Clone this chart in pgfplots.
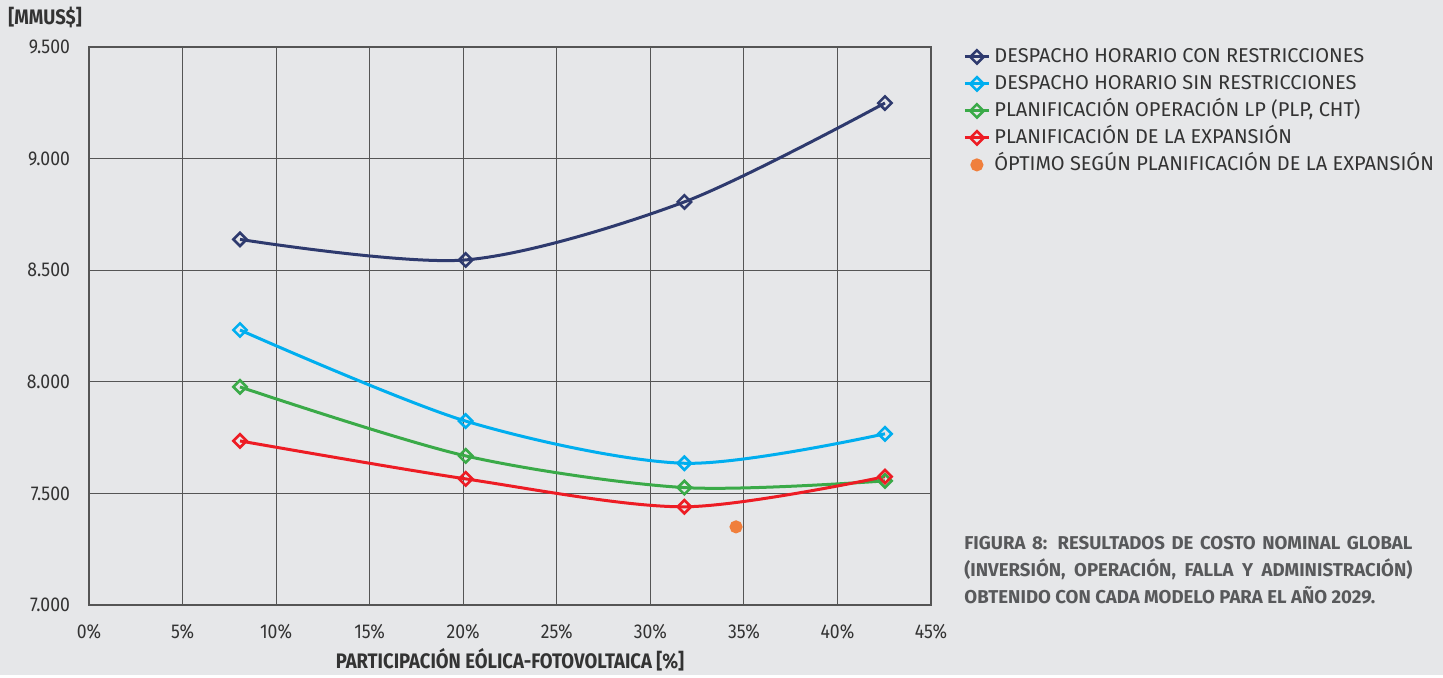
\documentclass[border=0pt]{standalone}
\usepackage{pgfplots}
\pgfplotsset{compat=1.18}
\usepackage{fontspec}
\setmainfont{Fira Sans}
\newfontfamily\condfont{Fira Sans}[FakeStretch=0.88]
\definecolor{bgc}{HTML}{E6E7E9}
\definecolor{cnavy}{HTML}{2E3A6E}
\definecolor{clight}{HTML}{00AEEF}
\definecolor{cgreen}{HTML}{3AAA48}
\definecolor{cred}{HTML}{ED1C24}
\definecolor{corange}{HTML}{F07F3C}
\definecolor{ctext}{HTML}{333333}
\definecolor{ccap}{HTML}{58595B}
\definecolor{cgrid}{HTML}{555555}
\begin{document}
\begin{tikzpicture}
\fill[bgc] (0pt,0pt) rectangle (721.5pt,337.5pt);
\node[anchor=west,font=\condfont\bfseries\fontsize{10.5}{12}\selectfont,text=ctext,inner sep=0] at (4pt,329pt) {[MMUS\$]};
\begin{scope}[every node/.style={anchor=base west,inner sep=0,font=\bfseries\fontsize{9.3}{11}\selectfont,text=ccap}]
\node at (482pt,62.5pt) {\makebox[224pt][s]{FIGURA 8: RESULTADOS DE COSTO NOMINAL GLOBAL}};
\node at (482pt,49pt) {\makebox[224pt][s]{(INVERSIÓN, OPERACIÓN, FALLA Y ADMINISTRACIÓN)}};
\node at (482pt,35.5pt) {OBTENIDO CON CADA MODELO PARA EL AÑO 2029.};
\end{scope}
\begin{axis}[
  at={(44.5pt,35pt)}, anchor=south west,
  scale only axis, width=421pt, height=279pt,
  xmin=0, xmax=45, ymin=7000, ymax=9500,
  xtick={0,5,...,45}, ytick={7000,7500,...,9500},
  xticklabels={0\%,5\%,10\%,15\%,20\%,25\%,30\%,35\%,40\%,45\%},
  yticklabels={7.000,7.500,8.000,8.500,9.000,9.500},
  major tick length=0pt,
  grid=major,
  grid style={cgrid,line width=0.6pt},
  axis line style={cgrid,line width=0.6pt},
  tick label style={font=\condfont\fontsize{10}{12}\selectfont,text=ctext},
  xticklabel style={yshift=-6pt},
  yticklabel style={xshift=-6pt},
  xlabel={\condfont\bfseries PARTICIPACIÓN EÓLICA-FOTOVOLTAICA [\%]},
  xlabel style={font=\fontsize{10.5}{12}\selectfont,text=ctext,yshift=2pt},
  legend style={at={(1.038,1.0)},anchor=north west,draw=none,fill=none,inner sep=0pt,
    font=\fontsize{10}{12}\selectfont,text=ctext,row sep=4pt,
    nodes={inner sep=0pt,text height=7.5pt,text depth=2pt},
    /tikz/every odd column/.append style={column sep=2pt}},
  legend cell align=left,
  legend image code/.code={\draw[#1,mark repeat=2,mark phase=2] plot coordinates {(0pt,0pt)(6pt,0pt)(12pt,0pt)};},
  every axis plot/.append style={line width=1.5pt,smooth,mark=square,
    mark options={rotate=45,fill=bgc,line width=1.3pt,solid},mark size=2.35pt},
]
\addplot[cnavy] coordinates {(8.07,8638) (20.13,8546) (31.82,8806) (42.54,9249)};
\addlegendentry{DESPACHO HORARIO CON RESTRICCIONES}
\addplot[clight] coordinates {(8.07,8232) (20.13,7824) (31.82,7635) (42.54,7767)};
\addlegendentry{DESPACHO HORARIO SIN RESTRICCIONES}
\addplot[cgreen] coordinates {(8.07,7977) (20.13,7668) (31.82,7526) (42.54,7556)};
\addlegendentry{PLANIFICACIÓN OPERACIÓN LP (PLP, CHT)}
\addplot[cred] coordinates {(8.07,7735) (20.13,7565) (31.82,7440) (42.54,7575)};
\addlegendentry{PLANIFICACIÓN DE LA EXPANSIÓN}
\addplot[only marks,mark=*,mark size=2.5pt,mark options={fill=corange,draw=corange,rotate=0},
  legend image code/.code={\fill[corange] (6pt,0pt) circle (2.5pt);}] coordinates {(34.58,7350)};
\addlegendentry{ÓPTIMO SEGÚN PLANIFICACIÓN DE LA EXPANSIÓN}
\end{axis}
\end{tikzpicture}
\end{document}
